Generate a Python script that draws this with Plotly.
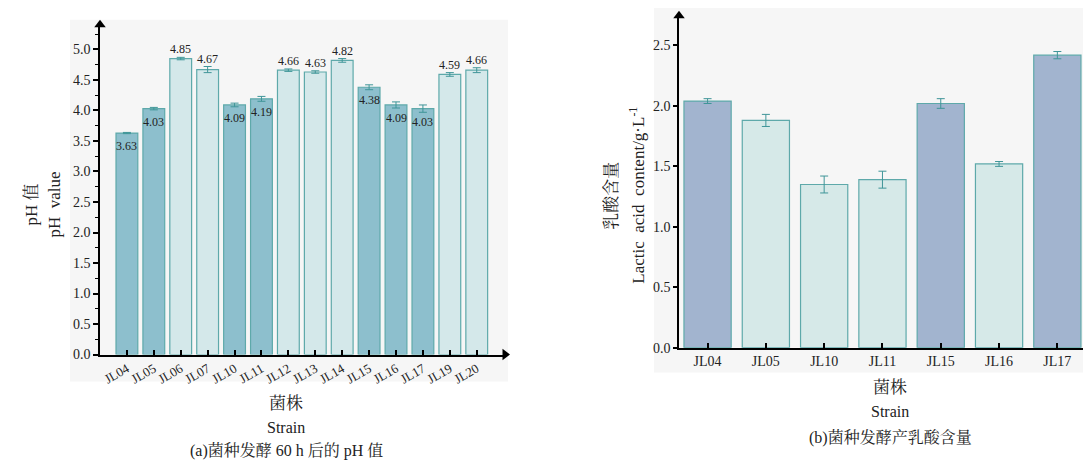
import plotly.graph_objects as go

# ---- data (a) ----
ph_strains = ["JL04", "JL05", "JL06", "JL07", "JL10", "JL11", "JL12", "JL13", "JL14", "JL15", "JL16", "JL17", "JL19", "JL20"]
ph_values = [3.63, 4.03, 4.85, 4.67, 4.09, 4.19, 4.66, 4.63, 4.82, 4.38, 4.09, 4.03, 4.59, 4.66]
ph_errors = [0.01, 0.02, 0.02, 0.05, 0.03, 0.04, 0.02, 0.02, 0.03, 0.04, 0.05, 0.06, 0.03, 0.04]
ph_dark = [True, True, False, False, True, True, False, False, False, True, True, True, False, False]
ph_yticks = [0.0, 0.5, 1.0, 1.5, 2.0, 2.5, 3.0, 3.5, 4.0, 4.5, 5.0]

# ---- data (b) ----
la_strains = ["JL04", "JL05", "JL10", "JL11", "JL15", "JL16", "JL17"]
la_values = [2.04, 1.88, 1.35, 1.39, 2.02, 1.52, 2.42]
la_errors = [0.02, 0.05, 0.07, 0.07, 0.04, 0.02, 0.03]
la_dark = [True, False, False, False, True, False, True]
la_yticks = [0.0, 0.5, 1.0, 1.5, 2.0, 2.5]

W, H = 1091, 461
SERIF = "Liberation Serif, Times New Roman, Noto Serif CJK SC, Noto Sans CJK SC, serif"
TXT = "#222222"
EDGE = "#5ea9aa"
ERR = "#3f9598"

ph_idx = list(range(len(ph_strains)))
la_idx = list(range(len(la_strains)))

def px_x(p):
    return p / W

def px_y(p):
    return 1 - p / H

fig = go.Figure()

# panel backgrounds
fig.add_shape(type="rect", xref="paper", yref="paper", x0=px_x(62), x1=px_x(500), y0=px_y(380), y1=px_y(12),
              fillcolor="#f6f6f6", line=dict(width=0), layer="below")
fig.add_shape(type="rect", xref="paper", yref="paper", x0=px_x(646), x1=1.0, y0=px_y(371), y1=1.0,
              fillcolor="#f6f6f6", line=dict(width=0), layer="below")

fig.add_trace(go.Bar(
    x=ph_idx, y=ph_values, width=0.81,
    marker=dict(color=["#8dbfcd" if d else "#d4e8ea" for d in ph_dark], line=dict(color=EDGE, width=1.2)),
    error_y=dict(type="data", array=ph_errors, color=ERR, thickness=1, width=4),
    xaxis="x", yaxis="y", showlegend=False, hoverinfo="y"))

fig.add_trace(go.Bar(
    x=la_idx, y=la_values, width=0.81,
    marker=dict(color=["#a2b4cf" if d else "#d6e9e8" for d in la_dark], line=dict(color=EDGE, width=1.2)),
    error_y=dict(type="data", array=la_errors, color=ERR, thickness=1, width=4),
    xaxis="x2", yaxis="y2", showlegend=False, hoverinfo="y"))

# axis ranges and axis-end arrowheads
ph_xmin, ph_xend, ph_top = -1.0, 14.05, 5.405
la_xmin, la_xend, la_top = -0.49, 6.56, 2.745
tri = dict(size=10, color="black")
fig.add_trace(go.Scatter(x=[ph_xmin], y=[ph_top], mode="markers", marker=dict(symbol="triangle-up", **tri),
                         xaxis="x", yaxis="y", showlegend=False, hoverinfo="skip", cliponaxis=False))
fig.add_trace(go.Scatter(x=[ph_xend], y=[0], mode="markers", marker=dict(symbol="triangle-right", **tri),
                         xaxis="x", yaxis="y", showlegend=False, hoverinfo="skip", cliponaxis=False))
fig.add_trace(go.Scatter(x=[la_xmin], y=[la_top], mode="markers", marker=dict(symbol="triangle-up", **tri),
                         xaxis="x2", yaxis="y2", showlegend=False, hoverinfo="skip", cliponaxis=False))
fig.add_trace(go.Scatter(x=[la_xend], y=[0], mode="markers", marker=dict(symbol="triangle-right", **tri),
                         xaxis="x2", yaxis="y2", showlegend=False, hoverinfo="skip", cliponaxis=False))

annotations = []
# value labels (a)
for i, v, e, d in zip(ph_idx, ph_values, ph_errors, ph_dark):
    if d:
        annotations.append(dict(x=i, y=v, xref="x", yref="y", text=f"{v:.2f}", showarrow=False,
                                xanchor="center", yanchor="top", yshift=-4, font=dict(family=SERIF, size=12, color=TXT)))
    else:
        annotations.append(dict(x=i, y=v + e, xref="x", yref="y", text=f"{v:.2f}", showarrow=False,
                                xanchor="center", yanchor="bottom", yshift=-1, font=dict(family=SERIF, size=12, color=TXT)))

def label(xp, yp, text, size=16, angle=0):
    return dict(x=px_x(xp), y=px_y(yp), xref="paper", yref="paper", text=text, textangle=angle,
                xanchor="center", yanchor="middle", showarrow=False,
                font=dict(family=SERIF, size=size, color=TXT))

# titles (a)
annotations.append(label(24, 200, "pH 值", 17, -90))
annotations.append(label(47, 200, "pH  value", 17, -90))
annotations.append(label(278, 402, "菌株", 17))
annotations.append(label(278, 427, "Strain", 16))
annotations.append(label(278, 450, "(a)菌种发酵 60 h 后的 pH 值", 16))
# titles (b)
annotations.append(label(604, 191, "乳酸含量", 17, -90))
annotations.append(label(629, 191, "Lactic  acid  content/g·L<sup>-1</sup>", 17, -90))
annotations.append(label(882, 386, "菌株", 17))
annotations.append(label(882, 411, "Strain", 16))
annotations.append(label(882, 437, "(b)菌种发酵产乳酸含量", 16))

line_common = dict(showline=True, linecolor="black", linewidth=1.6, showgrid=False, zeroline=False,
                   tickcolor="black")

fig.update_layout(
    width=W, height=H, margin=dict(l=0, r=0, t=0, b=0),
    paper_bgcolor="white", plot_bgcolor="rgba(0,0,0,0)",
    annotations=annotations,
    xaxis=dict(domain=[px_x(92), px_x(497)], range=[ph_xmin, ph_xend], anchor="y",
               tickvals=ph_idx, ticktext=ph_strains,
               ticks="inside", ticklen=5, tickwidth=1.5, tickangle=-30,
               tickfont=dict(family=SERIF, size=13, color=TXT), **line_common),
    yaxis=dict(domain=[px_y(352.7), px_y(17)], range=[0, ph_top], anchor="x",
               tickvals=ph_yticks, ticktext=[f"{t:.1f}" for t in ph_yticks],
               ticks="outside", ticklen=5, tickwidth=1.5,
               minor=dict(dtick=0.25, tick0=0, ticks="outside", ticklen=3, tickcolor="black", tickwidth=1.2),
               tickfont=dict(family=SERIF, size=14, color=TXT), **line_common),
    xaxis2=dict(domain=[px_x(671), px_x(1082)], range=[la_xmin, la_xend], anchor="y2",
                tickvals=la_idx, ticktext=la_strains,
                ticks="inside", ticklen=5, tickwidth=1.5,
                tickfont=dict(family=SERIF, size=14, color=TXT), **line_common),
    yaxis2=dict(domain=[px_y(345.7), px_y(8)], range=[0, la_top], anchor="x2",
                tickvals=la_yticks, ticktext=[f"{t:.1f}" for t in la_yticks],
                ticks="outside", ticklen=4, tickwidth=1.5,
                tickfont=dict(family=SERIF, size=14, color=TXT), **line_common),
)

fig.write_html("out.html")
